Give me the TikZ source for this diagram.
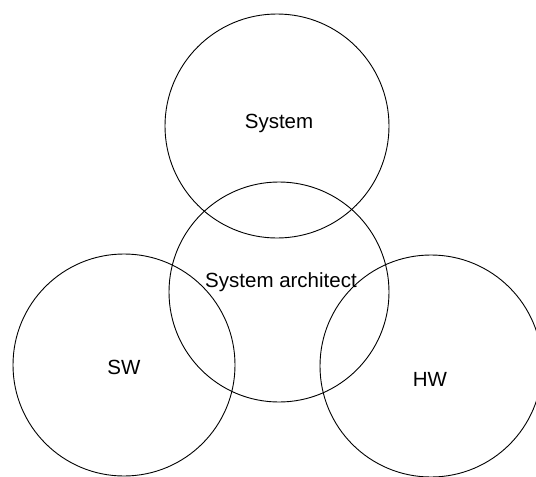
\documentclass[tikz,border=0pt]{standalone}
\usepackage{fontspec}
\setmainfont{Liberation Sans}
\usepackage{tikz}
\tikzset{
  vring/.style={line width=0.9pt, draw=black},
  vtext/.style={font=\fontsize{20.5}{23}\selectfont, inner sep=0pt},
}

\begin{document}
\begin{tikzpicture}[x=1pt, y=-1pt]
\useasboundingbox (0,0) rectangle (536,477);
\draw[vring] (277,126) circle (112pt);
\draw[vring] (279,292) circle (110pt);
\draw[vring] (124,365) circle (111pt);
\draw[vring] (431,366) circle (111pt);
\node[vtext] (system) at (279,123) {System};
\node[vtext] (architect) at (281,282) {System architect};
\node[vtext] (sw) at (124,367) {SW};
\node[vtext] (hw) at (430,379) {HW};
\end{tikzpicture}
\end{document}
